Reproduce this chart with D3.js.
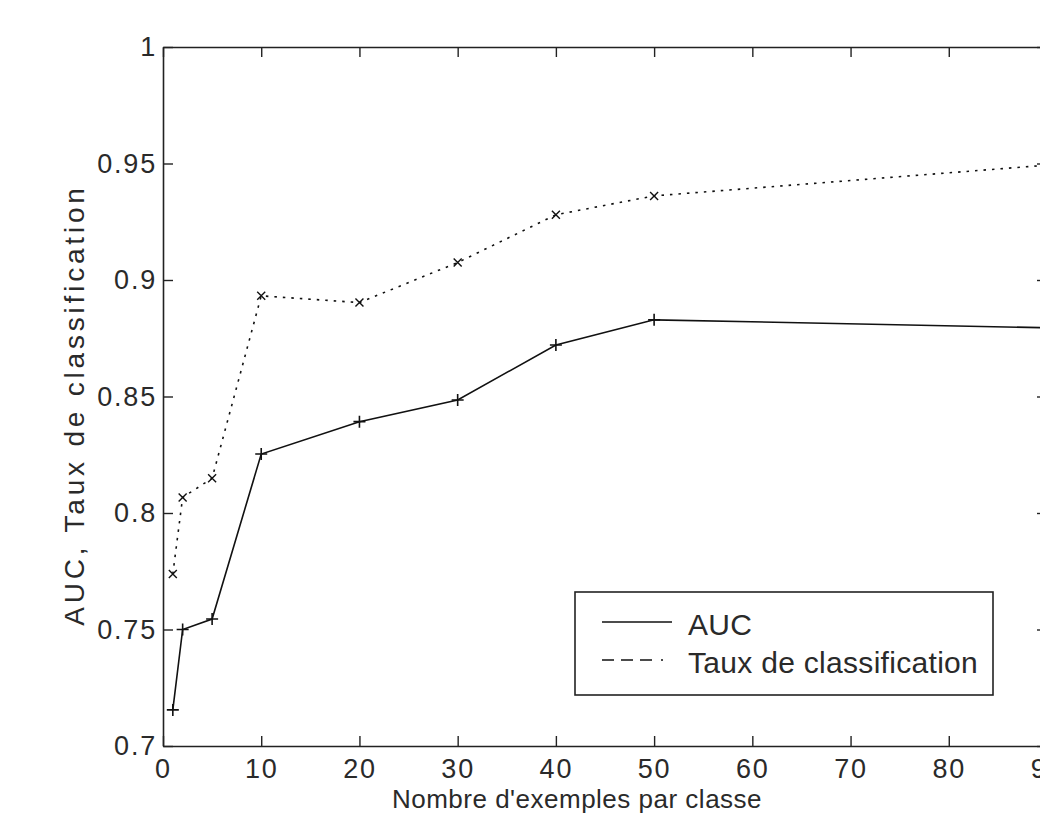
<!DOCTYPE html>
<html>
<head>
<meta charset="utf-8">
<script src="https://cdn.jsdelivr.net/npm/d3@7"></script>
<style>
  body { margin: 0; background: #fff; }
  text { font-family: "Liberation Sans", Arial, sans-serif; fill: #2a2a2a; }
</style>
</head>
<body>
<div id="chart"></div>
<script>
// data
var examples = [1, 2, 5, 10, 20, 30, 40, 50, 90];
var auc = [0.7155, 0.750, 0.7545, 0.8253, 0.8392, 0.8485, 0.8721, 0.8829, 0.8795];
var taux = [0.7738, 0.8067, 0.8149, 0.8932, 0.8903, 0.9075, 0.928, 0.9361, 0.9493];
var xTicks = [0, 10, 20, 30, 40, 50, 60, 70, 80, 90];
var yTicks = [0.7, 0.75, 0.8, 0.85, 0.9, 0.95, 1];
var seriesNames = ["AUC", "Taux de classification"];

var margin = {top: 47, left: 163},
    width = 884,
    height = 699;

var svg = d3.select("#chart")
    .append("svg")
        .attr("width", 1040)
        .attr("height", 827)
        .append("g")
            .attr("transform", "translate(" + margin.left + "," + margin.top + ")");

var x = d3.scaleLinear().domain([0, 90]).range([0, width]);
var y = d3.scaleLinear().domain([0.7, 1]).range([height, 0]);

function styleAxis(g) {
    g.select(".domain").attr("stroke", "#222").attr("stroke-width", 1.6);
    g.selectAll(".tick line").attr("stroke", "#222").attr("stroke-width", 1.4);
    g.selectAll("text")
        .style("font-size", "27px")
        .style("letter-spacing", "1.8px")
        .attr("fill", "#2a2a2a");
}

// bottom axis
svg.append("g")
    .attr("transform", "translate(0," + height + ")")
    .call(d3.axisBottom(x).tickValues(xTicks).tickSize(-10).tickSizeOuter(0).tickPadding(13)
        .tickFormat(d3.format("d")))
    .call(styleAxis);

// top axis
svg.append("g")
    .call(d3.axisTop(x).tickValues(xTicks).tickSize(-10).tickSizeOuter(0).tickFormat(""))
    .call(styleAxis);

// left axis
svg.append("g")
    .call(d3.axisLeft(y).tickValues(yTicks).tickSize(-10).tickSizeOuter(0).tickPadding(6)
        .tickFormat(function (d) { return d3.format("")(+d.toFixed(2)); }))
    .call(styleAxis);

// right axis
svg.append("g")
    .attr("transform", "translate(" + width + ",0)")
    .call(d3.axisRight(y).tickValues(yTicks).tickSize(-10).tickSizeOuter(0).tickFormat(""))
    .call(styleAxis);

var aucData = examples.map(function (d, i) { return [d, auc[i]]; });
var tauxData = examples.map(function (d, i) { return [d, taux[i]]; });

var line = d3.line()
    .x(function (d) { return x(d[0]); })
    .y(function (d) { return y(d[1]); });

svg.append("path")
    .datum(aucData)
    .attr("fill", "none")
    .attr("stroke", "#111")
    .attr("stroke-width", 1.6)
    .attr("d", line);

svg.append("path")
    .datum(tauxData)
    .attr("fill", "none")
    .attr("stroke", "#111")
    .attr("stroke-width", 1.6)
    .attr("stroke-dasharray", "2.5,6")
    .attr("d", line);

// + markers
svg.append("g")
    .selectAll("path")
    .data(aucData)
    .enter()
    .append("path")
        .attr("transform", function (d) { return "translate(" + x(d[0]) + "," + y(d[1]) + ")"; })
        .attr("d", "M-6,0H6M0,-6V6")
        .attr("stroke", "#111")
        .attr("stroke-width", 1.6);

// x markers
svg.append("g")
    .selectAll("path")
    .data(tauxData)
    .enter()
    .append("path")
        .attr("transform", function (d) { return "translate(" + x(d[0]) + "," + y(d[1]) + ")"; })
        .attr("d", "M-4,-4L4,4M-4,4L4,-4")
        .attr("stroke", "#111")
        .attr("stroke-width", 1.4);

// axis labels
svg.append("text")
    .attr("x", 414)
    .attr("y", height + 62)
    .attr("text-anchor", "middle")
    .style("font-size", "26px")
    .style("letter-spacing", "0.5px")
    .text("Nombre d'exemples par classe");

svg.append("text")
    .attr("transform", "translate(-79,358) rotate(-90)")
    .attr("text-anchor", "middle")
    .style("font-size", "28px")
    .style("letter-spacing", "3.8px")
    .text("AUC, Taux de classification");

// legend
var legend = svg.append("g")
    .attr("transform", "translate(" + (575 - margin.left) + "," + (592 - margin.top) + ")");

legend.append("rect")
    .attr("width", 418)
    .attr("height", 103)
    .attr("fill", "#fff")
    .attr("stroke", "#222")
    .attr("stroke-width", 1.6);

var dashes = [null, "12,7,12,7,12,9,2,20"];
seriesNames.forEach(function (name, i) {
    var ly = 30 + i * 38;
    legend.append("line")
        .attr("x1", 27).attr("x2", 97)
        .attr("y1", ly).attr("y2", ly)
        .attr("stroke", "#111")
        .attr("stroke-width", 1.6)
        .attr("stroke-dasharray", dashes[i]);
    legend.append("text")
        .attr("x", 113)
        .attr("y", ly + 13)
        .style("font-size", "30px")
        .style("letter-spacing", "0.3px")
        .text(name);
});
</script>
</body>
</html>
